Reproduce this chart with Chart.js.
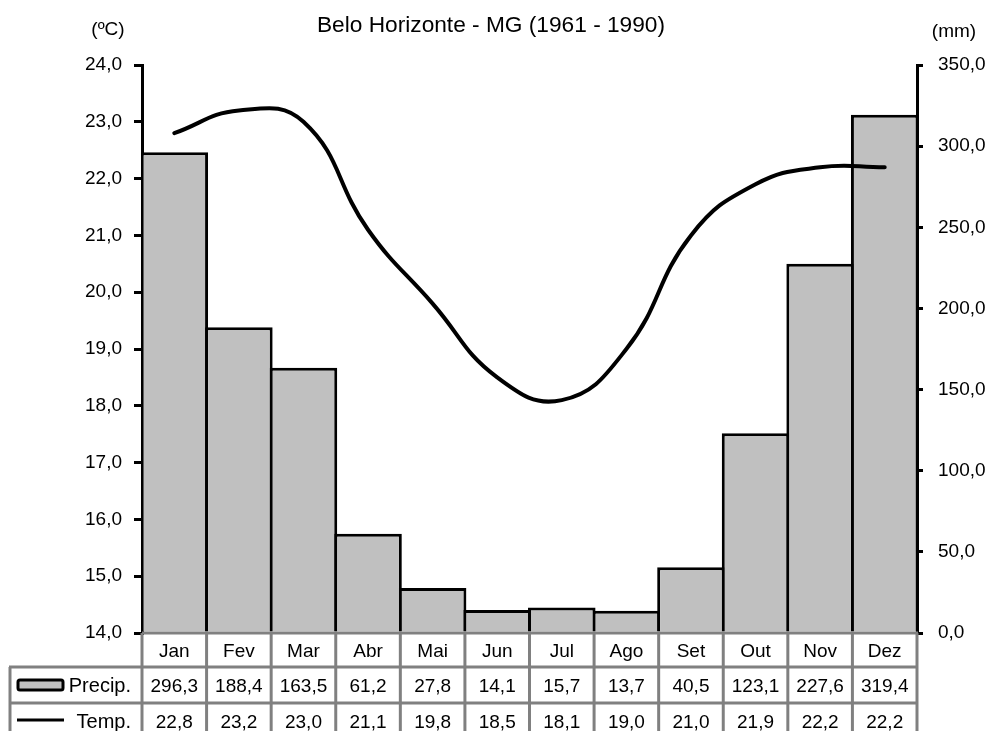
<!DOCTYPE html>
<html><head><meta charset="utf-8">
<script src="https://cdn.jsdelivr.net/npm/chart.js@4/dist/chart.umd.min.js"></script>
<style>html,body{margin:0;padding:0;background:#fff;}#wrap{width:991px;height:731px;position:relative;}</style>
</head><body><div id="wrap"><canvas id="c" width="991" height="731"></canvas></div>
<script>
const months = ['Jan','Fev','Mar','Abr','Mai','Jun','Jul','Ago','Set','Out','Nov','Dez'];
const precip = [296.3,188.4,163.5,61.2,27.8,14.1,15.7,13.7,40.5,123.1,227.6,319.4];
const temp = [22.8,23.2,23.0,21.1,19.8,18.5,18.1,19.0,21.0,21.9,22.2,22.2];
const tempRange = [14, 24, 1];
const precipRange = [0, 350, 50];
const chartTitle = 'Belo Horizonte - MG (1961 - 1990)';
const leftUnit = '(ºC)';
const rightUnit = '(mm)';
const rowLabels = ['Precip.', 'Temp.'];

const FONT = '"Liberation Sans", Arial, sans-serif';
Chart.defaults.font.family = FONT;
Chart.defaults.color = '#000';
const fmt = v => Number(v).toFixed(1).replace('.', ',');

const tablePlugin = {
  id: 'tablePlugin',
  afterDraw(chart) {
    const ctx = chart.ctx, a = chart.chartArea;
    const n = months.length;
    const w = (a.right - a.left) / n;
    const r0 = a.bottom, r1 = r0 + 34, r2 = r1 + 36, r3 = r2 + 36;
    const legL = 10;
    ctx.save();
    // titles
    ctx.fillStyle = '#000';
    ctx.textAlign = 'center';
    ctx.textBaseline = 'alphabetic';
    ctx.font = '22.7px ' + FONT;
    ctx.fillText(chartTitle, 491, 32);
    ctx.font = '19px ' + FONT;
    ctx.fillText(leftUnit, 108, 35);
    ctx.fillText(rightUnit, 954, 37);
    // grid
    ctx.strokeStyle = '#808080';
    ctx.lineWidth = 3;
    const L = (x1, y1, x2, y2) => { ctx.beginPath(); ctx.moveTo(x1, y1); ctx.lineTo(x2, y2); ctx.stroke(); };
    L(a.left, r0, a.right + 1, r0);
    L(legL - 1, r1, a.right + 1, r1);
    L(legL - 1, r2, a.right + 1, r2);
    for (let i = 0; i <= n; i++) {
      const x = a.left + i * w;
      L(x, r0, x, r3);
    }
    L(legL, r1, legL, r3);
    // text
    ctx.fillStyle = '#000';
    ctx.font = '19px ' + FONT;
    ctx.textAlign = 'center';
    const cap = 0.358 * 19;
    for (let i = 0; i < n; i++) {
      const cx = a.left + (i + 0.5) * w;
      ctx.fillText(months[i], cx, (r0 + r1) / 2 + cap);
      ctx.fillText(fmt(precip[i]), cx, (r1 + r2) / 2 + cap);
      ctx.fillText(fmt(temp[i]), cx, (r2 + r3) / 2 + cap);
    }
    ctx.textAlign = 'right';
    ctx.font = '20px ' + FONT;
    ctx.fillText(rowLabels[0], 131, (r1 + r2) / 2 + cap);
    ctx.fillText(rowLabels[1], 131, (r2 + r3) / 2 + cap);
    // legend keys
    const ky = (r1 + r2) / 2;
    ctx.fillStyle = '#c0c0c0';
    ctx.strokeStyle = '#000';
    ctx.lineWidth = 3;
    ctx.beginPath();
    ctx.roundRect(18, ky - 5, 45, 10, 2);
    ctx.fill(); ctx.stroke();
    ctx.lineWidth = 3;
    L(17, (r2 + r3) / 2 - 1, 64, (r2 + r3) / 2 - 1);
    ctx.restore();
  }
};

new Chart(document.getElementById('c'), {
  data: {
    labels: months,
    datasets: [
      {
        type: 'line', label: rowLabels[1], data: temp, yAxisID: 'yT',
        borderColor: '#000', borderWidth: 4, tension: 0.45, borderCapStyle: 'round',
        pointRadius: 0, fill: false, order: 0
      },
      {
        type: 'bar', label: rowLabels[0], data: precip, yAxisID: 'yP',
        backgroundColor: '#c0c0c0', borderColor: '#000', borderWidth: 3,
        barPercentage: 1.046, categoryPercentage: 1, order: 1
      }
    ]
  },
  options: {
    responsive: false,
    animation: false,
    layout: { padding: { top: 65, bottom: 98, left: 0, right: 0 } },
    plugins: { legend: { display: false }, tooltip: { enabled: false }, title: { display: false } },
    scales: {
      x: { type: 'category', display: false, offset: true },
      yT: {
        position: 'left', min: tempRange[0], max: tempRange[1],
        ticks: { stepSize: tempRange[2], callback: v => fmt(v), font: { size: 19 }, padding: 12, color: '#000' },
        grid: { drawOnChartArea: false, color: '#000', tickLength: 8, lineWidth: 3 },
        border: { color: '#000', width: 3 },
        afterFit(s) { s.width = 142; }
      },
      yP: {
        position: 'right', min: precipRange[0], max: precipRange[1],
        ticks: { stepSize: precipRange[2], callback: v => fmt(v), font: { size: 19 }, padding: 15, color: '#000' },
        grid: { drawOnChartArea: false, color: '#000', tickLength: 6, lineWidth: 3 },
        border: { color: '#000', width: 3 },
        afterFit(s) { s.width = 74; }
      }
    }
  },
  plugins: [tablePlugin]
});
</script>
</body></html>
